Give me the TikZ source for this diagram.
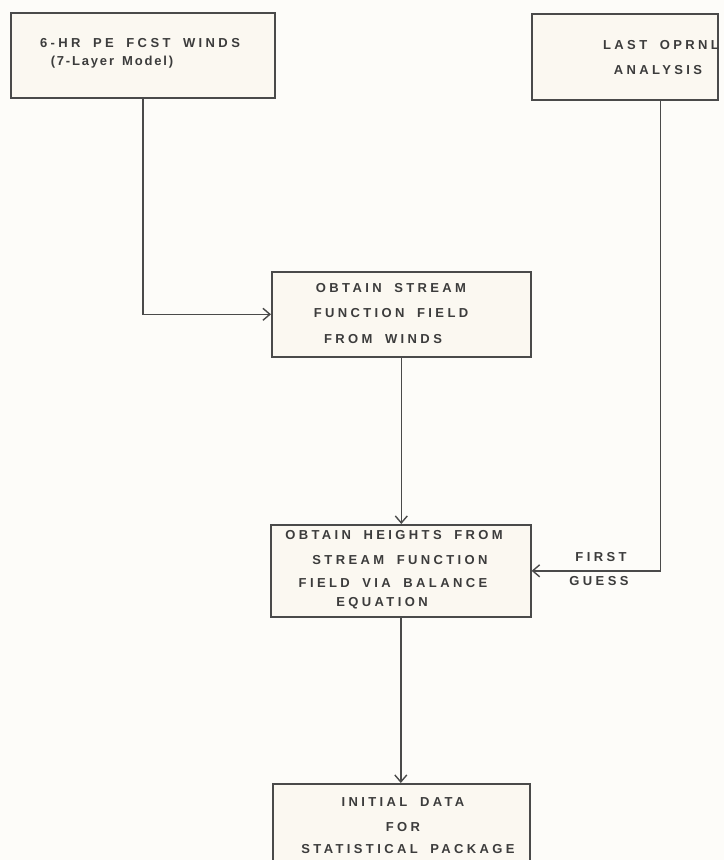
\documentclass[tikz,border=0pt]{standalone}
\usepackage{fontspec}
\setmainfont{Liberation Sans}
\newfontfamily\lettering[LetterSpace=26,WordSpace=1.8]{Liberation Sans Bold}
\newfontfamily\letteringlow[LetterSpace=14,WordSpace=1.5]{Liberation Sans Bold}
\usetikzlibrary{arrows.meta}
\definecolor{ink}{HTML}{4A4A4A}
\definecolor{txt}{HTML}{3C3C3C}
\definecolor{paper}{HTML}{FDFCF9}
\definecolor{boxfill}{HTML}{FBF8F1}
\begin{document}
\begin{tikzpicture}[x=1pt,y=-1pt,
  box/.style={draw=ink,line width=1.6pt,fill=boxfill,rectangle,inner sep=0pt,anchor=north west},
  lbl/.style={text=txt,font=\lettering\fontsize{13}{15}\selectfont,inner sep=0pt,anchor=center},
  lbllow/.style={text=txt,font=\letteringlow\fontsize{13}{15}\selectfont,inner sep=0pt,anchor=center},
  conn/.style={draw=ink,line width=1.4pt},
  arr/.style={conn,-{Straight Barb[length=7pt,width=12pt,line width=1.4pt]}}]
\fill[paper] (0,0) rectangle (724,860);
\useasboundingbox (0,0) rectangle (724,860);
\clip (0,0) rectangle (724,860);

% boxes
\node[box,minimum width=264pt,minimum height=85pt] (b1) at (10,12) {};
\node[box,minimum width=186pt,minimum height=86pt] (b2) at (531,13) {};
\node[box,minimum width=259pt,minimum height=85pt] (b3) at (271,271) {};
\node[box,minimum width=260pt,minimum height=92pt] (b4) at (270,524) {};
\node[box,minimum width=257pt,minimum height=110pt] (b5) at (272,783) {};

% texts
\node[lbl] (t1a) at (140,43) {6-HR PE FCST WINDS};
\node[lbllow] (t1b) at (112,62) {(7-Layer Model)};
\node[lbl] (t2a) at (661,45) {LAST OPRNL};
\node[lbl] (t2b) at (658,70) {ANALYSIS};
\node[lbl] (t3a) at (391,288) {OBTAIN STREAM};
\node[lbl] (t3b) at (391,313) {FUNCTION FIELD};
\node[lbl] (t3c) at (383,339) {FROM WINDS};
\node[lbl] (t4a) at (394,535) {OBTAIN HEIGHTS FROM};
\node[lbl] (t4b) at (400,560) {STREAM FUNCTION};
\node[lbl] (t4c) at (393,583) {FIELD VIA BALANCE};
\node[lbl] (t4d) at (382,603) {EQUATION};
\node[lbl] (t5a) at (403,802) {INITIAL DATA};
\node[lbl] (t5b) at (403,827) {FOR};
\node[lbl] (t5c) at (408,849) {STATISTICAL PACKAGE};
\node[lbl] (fg1) at (601,557) {FIRST};
\node[lbl] (fg2) at (599,581) {GUESS};

% connectors
\coordinate (b2out) at (660.5,99);
\draw[arr] (b1.south) |- (b3.west);
\draw[arr] (b3.south) -- (b3.south |- b4.north);
\draw[arr] (b2out) |- (b4.east);
\draw[arr] (b4.south) -- (b4.south |- b5.north);
\end{tikzpicture}
\end{document}
